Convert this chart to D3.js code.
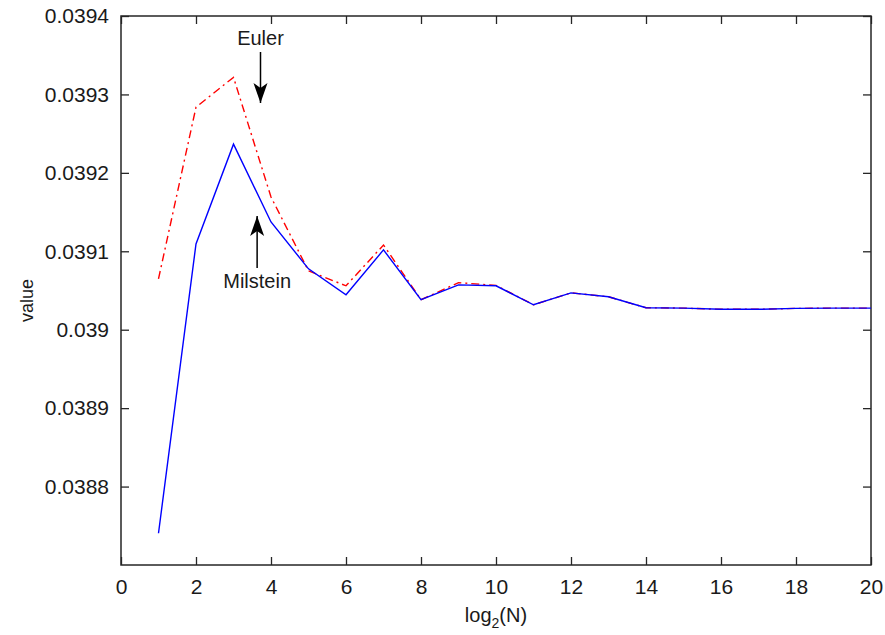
<!DOCTYPE html>
<html>
<head>
<meta charset="utf-8">
<script src="https://cdn.jsdelivr.net/npm/d3@7"></script>
<style>
  body { margin: 0; background: #fff; }
  svg text { font-family: "Liberation Sans Narrow", "Liberation Sans", Arial, sans-serif; fill: #1a1a1a; }
</style>
</head>
<body>
<svg id="chart"></svg>
<script>
var steps = [1, 2, 3, 4, 5, 6, 7, 8, 9, 10, 11, 12, 13, 14, 15, 16, 17, 18, 19, 20];
var milstein = [0.0387405, 0.0391094, 0.0392366, 0.0391374, 0.0390776, 0.0390445, 0.0391018,
  0.0390382, 0.0390572, 0.0390560, 0.0390318, 0.0390470, 0.0390420, 0.0390280, 0.0390275,
  0.0390260, 0.0390260, 0.0390272, 0.0390275, 0.0390275];
var euler = [0.0390649, 0.0392837, 0.0393218, 0.0391692, 0.0390750, 0.0390560, 0.0391080,
  0.0390382, 0.0390600, 0.0390565, 0.0390318, 0.0390470, 0.0390420, 0.0390280, 0.0390275,
  0.0390260, 0.0390260, 0.0390272, 0.0390275, 0.0390275];
var xTicks = [0, 2, 4, 6, 8, 10, 12, 14, 16, 18, 20];
var yTicks = [0.0388, 0.0389, 0.039, 0.0391, 0.0392, 0.0393, 0.0394];

var margin = {top: 16, right: 14, bottom: 70, left: 121};
var width = 885 - margin.left - margin.right;
var height = 635 - margin.top - margin.bottom;

var svg = d3.select("#chart")
  .attr("width", 885)
  .attr("height", 635);

var defs = svg.append("defs");
defs.append("marker")
  .attr("id", "head")
  .attr("viewBox", "0 0 20 20")
  .attr("refX", 20)
  .attr("refY", 10)
  .attr("markerWidth", 20)
  .attr("markerHeight", 20)
  .attr("markerUnits", "userSpaceOnUse")
  .attr("orient", "auto")
  .append("path")
  .attr("d", "M0,3 L20,10 L0,17 L5,10 Z")
  .attr("fill", "#000");

var chart = svg.append("g")
  .attr("transform", "translate(" + margin.left + "," + margin.top + ")");

var x = d3.scaleLinear().domain([0, 20]).range([0, width]);
var y = d3.scaleLinear().domain([0.0387, 0.0394]).range([height, 0]);

var fmt = function(d) { return String(+d.toFixed(4)); };

function styleAxis(g) {
  g.select(".domain").remove();
  g.selectAll(".tick line").attr("stroke", "#262626").attr("stroke-width", 1.3);
  g.selectAll(".tick text").style("font-size", "21px").attr("fill", "#1a1a1a");
}

chart.append("g")
  .attr("transform", "translate(0," + height + ")")
  .call(d3.axisBottom(x).tickValues(xTicks).tickSize(-8).tickPadding(14).tickFormat(d3.format("d")))
  .call(styleAxis);
chart.append("g")
  .call(d3.axisTop(x).tickValues(xTicks).tickSize(-8).tickFormat(""))
  .call(styleAxis);
chart.append("g")
  .call(d3.axisLeft(y).tickValues(yTicks).tickSize(-8).tickPadding(12).tickFormat(fmt))
  .call(styleAxis);
chart.append("g")
  .attr("transform", "translate(" + width + ",0)")
  .call(d3.axisRight(y).tickValues(yTicks).tickSize(-8).tickFormat(""))
  .call(styleAxis);

chart.append("rect")
  .attr("width", width)
  .attr("height", height)
  .attr("fill", "none")
  .attr("stroke", "#262626")
  .attr("stroke-width", 1.5);

var line = d3.line()
  .x(function(d, i) { return x(steps[i]); })
  .y(function(d) { return y(d); });

chart.append("path")
  .datum(euler)
  .attr("d", line)
  .attr("fill", "none")
  .attr("stroke", "#ff0000")
  .attr("stroke-width", 1.4)
  .attr("stroke-dasharray", "8,4,2,4");

chart.append("path")
  .datum(milstein)
  .attr("d", line)
  .attr("fill", "none")
  .attr("stroke", "#0000ff")
  .attr("stroke-width", 1.4);

// annotations
chart.append("text")
  .attr("x", x(3.72))
  .attr("y", 29)
  .attr("text-anchor", "middle")
  .style("font-size", "20px")
  .text("Euler");
chart.append("line")
  .attr("x1", x(3.72)).attr("x2", x(3.72))
  .attr("y1", 36).attr("y2", 87)
  .attr("stroke", "#000").attr("stroke-width", 1.5)
  .attr("marker-end", "url(#head)");

chart.append("text")
  .attr("x", x(3.63))
  .attr("y", 272)
  .attr("text-anchor", "middle")
  .style("font-size", "20px")
  .text("Milstein");
chart.append("line")
  .attr("x1", x(3.63)).attr("x2", x(3.63))
  .attr("y1", 252).attr("y2", 200)
  .attr("stroke", "#000").attr("stroke-width", 1.5)
  .attr("marker-end", "url(#head)");

// axis labels
var xl = chart.append("text")
  .attr("x", width / 2)
  .attr("y", height + 57)
  .attr("text-anchor", "middle")
  .style("font-size", "20px");
xl.append("tspan").text("log");
xl.append("tspan").attr("dy", 6).style("font-size", "14px").text("2");
xl.append("tspan").attr("dy", -6).text("(N)");

chart.append("text")
  .attr("transform", "translate(" + (-88) + "," + (height / 2 + 10) + ") rotate(-90)")
  .attr("text-anchor", "middle")
  .style("font-size", "18px")
  .text("value");
</script>
</body>
</html>
